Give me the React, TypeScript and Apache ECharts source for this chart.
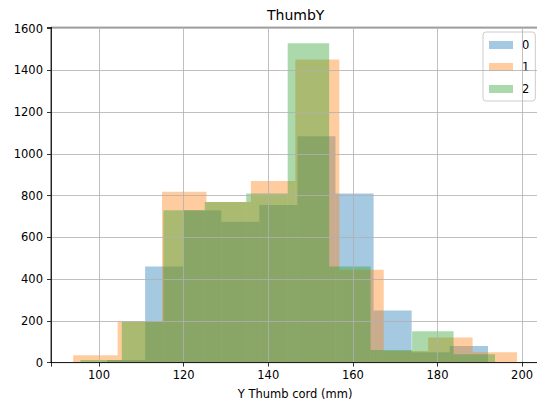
import React, { useEffect, useRef } from "react";
import * as echarts from "echarts";

// Bin edges (mm), one list per series
const edges0 = [101.9, 110.9, 119.9, 128.9, 137.9, 146.9, 155.9, 164.9, 173.9, 182.9, 191.95];
const edges1 = [93.9, 104.4, 114.9, 125.4, 135.9, 146.4, 156.8, 167.3, 177.8, 188.3, 198.8];
const edges2 = [95.6, 105.4, 115.2, 125.0, 134.8, 144.6, 154.4, 164.2, 174.0, 183.8, 193.6];

// Counts per bin
const counts0 = [12, 460, 730, 675, 755, 1085, 810, 250, 50, 80];
const counts1 = [35, 197, 818, 770, 870, 1452, 445, 55, 120, 50];
const counts2 = [12, 197, 730, 770, 810, 1530, 460, 60, 150, 40];

const seriesNames = ["0", "1", "2"];
const seriesColors = [
  "rgba(31,119,180,0.4)",
  "rgba(255,127,14,0.4)",
  "rgba(44,160,44,0.4)",
];

const FONT = "DejaVu Sans";

function toBins(edges: number[], counts: number[]) {
  return counts.map((c, i) => [edges[i], edges[i + 1], c]);
}

export default function App() {
  const ref = useRef<HTMLDivElement>(null);

  useEffect(() => {
    if (!ref.current) return;
    const chart = echarts.init(ref.current, undefined, { renderer: "svg" });

    const allEdges = [...edges0, ...edges1, ...edges2];
    const lo = Math.min(...allEdges);
    const hi = Math.max(...allEdges);
    const pad = (hi - lo) * 0.05;
    const yMax = Math.max(...counts0, ...counts1, ...counts2) * 1.05;

    const sets = [
      toBins(edges0, counts0),
      toBins(edges1, counts1),
      toBins(edges2, counts2),
    ];

    const renderItem = (params: any, api: any) => {
      const x0 = api.value(0);
      const x1 = api.value(1);
      const h = api.value(2);
      const p0 = api.coord([x0, h]);
      const p1 = api.coord([x1, 0]);
      return {
        type: "rect",
        shape: { x: p0[0], y: p0[1], width: p1[0] - p0[0], height: p1[1] - p0[1] },
        style: { fill: api.visual("color") },
      };
    };

    chart.setOption({
      animation: false,
      backgroundColor: "#ffffff",
      textStyle: { fontFamily: FONT },
      title: {
        text: "ThumbY",
        left: 267,
        top: 8,
        padding: 0,
        textStyle: { fontFamily: FONT, fontSize: 14, fontWeight: "normal", color: "#000" },
      },
      legend: {
        orient: "vertical",
        left: 483,
        top: 32,
        padding: [7, 6, 6, 6],
        itemWidth: 24,
        itemHeight: 8,
        itemGap: 10,
        icon: "rect",
        backgroundColor: "rgba(255,255,255,0.8)",
        borderColor: "#cccccc",
        borderWidth: 1,
        borderRadius: 3,
        textStyle: { fontFamily: FONT, fontSize: 11.5, color: "#000", padding: [0, 0, 0, 4] },
        data: seriesNames,
      },
      grid: {
        left: 51,
        right: -2.2,
        top: 27.3,
        bottom: 39.4,
        outerBoundsMode: "none",
        containLabel: false,
        show: true,
        borderColor: "#000",
        borderWidth: 0.8,
        backgroundColor: "transparent",
      },
      xAxis: {
        type: "value",
        min: lo - pad,
        max: hi + pad,
        splitNumber: 5,
        z: 5,
        name: "Y Thumb cord (mm)",
        nameLocation: "middle",
        nameGap: 25,
        nameTextStyle: { fontFamily: FONT, fontSize: 11.5, color: "#000" },
        axisLine: { show: true, onZero: false, lineStyle: { color: "#000", width: 0.8 } },
        axisTick: { show: true, length: 4, lineStyle: { color: "#000", width: 0.8 } },
        axisLabel: {
          fontFamily: FONT,
          fontSize: 11.5,
          color: "#000",
          margin: 6,
          formatter: (v: number) => (Math.abs(v - Math.round(v)) < 1e-6 && Math.round(v) % 20 === 0 ? String(Math.round(v)) : ""),
        },
        splitLine: { show: true, lineStyle: { color: "#b0b0b0", width: 0.8 } },
      },
      yAxis: {
        type: "value",
        min: 0,
        max: yMax,
        interval: 200,
        z: 5,
        axisLine: { show: true, lineStyle: { color: "#000", width: 0.8 } },
        axisTick: { show: true, length: 4, lineStyle: { color: "#000", width: 0.8 } },
        axisLabel: {
          fontFamily: FONT,
          fontSize: 11.5,
          color: "#000",
          margin: 8,
          formatter: (v: number) => (Math.abs(v % 200) < 1e-6 ? String(v) : ""),
        },
        splitLine: { show: true, lineStyle: { color: "#b0b0b0", width: 0.8 } },
      },
      series: sets.map((d, i) => ({
        type: "custom",
        name: seriesNames[i],
        renderItem,
        itemStyle: { color: seriesColors[i] },
        encode: { x: [0, 1], y: 2 },
        data: d,
        z: 2,
      })),
    });

    return () => chart.dispose();
  }, []);

  return (
    <div
      ref={ref}
      style={{ position: "fixed", left: 0, top: 0, width: 537, height: 402 }}
    />
  );
}
